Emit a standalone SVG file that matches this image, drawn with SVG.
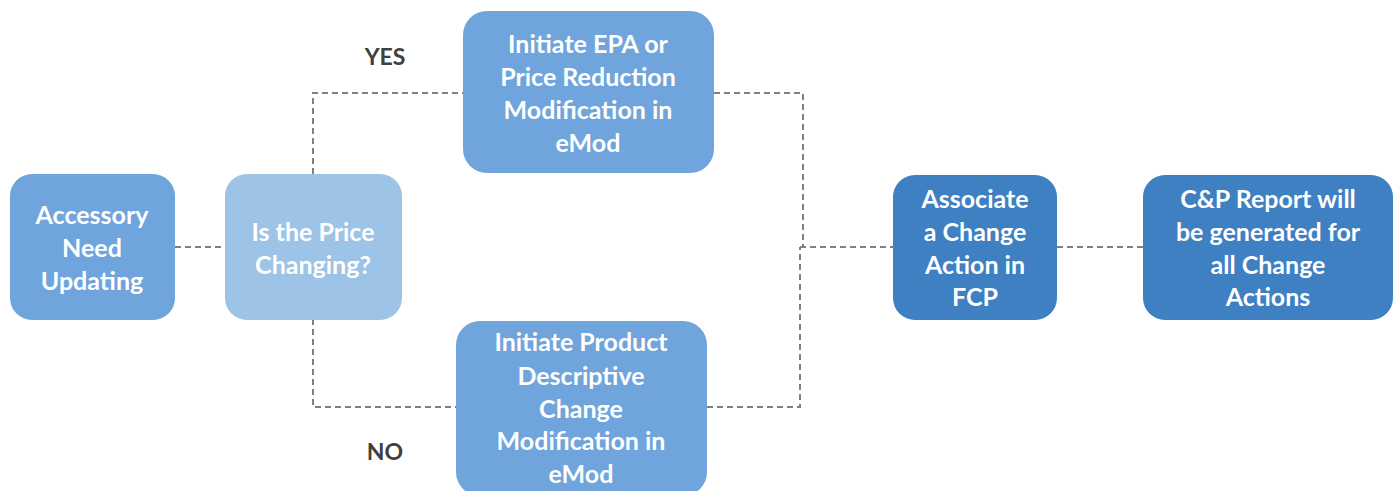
<svg xmlns="http://www.w3.org/2000/svg" width="1395" height="491" viewBox="0 0 1395 491">
<style>
.n1{fill:#6FA5DC}
.n2{fill:#9DC3E6}
.n3{fill:#3E80C2}
.t{font-family:Lato,"Liberation Sans",sans-serif;font-weight:bold;font-size:25px;fill:#ffffff;text-anchor:middle}
.lbl{font-family:Lato,"Liberation Sans",sans-serif;font-weight:bold;font-size:23px;fill:#404040;text-anchor:middle}
.c{fill:none;stroke:#7F7F7F;stroke-width:2;stroke-dasharray:6 4}
</style>
<rect width="1395" height="491" fill="#ffffff"/>
<g id="connectors">
<path class="c" d="M175 247 H225"/>
<path class="c" d="M313 174 V93 H463"/>
<path class="c" d="M313 319 V407 H456"/>
<path class="c" d="M714 93 H803 V247"/>
<path class="c" d="M707 407 H800 V247"/>
<path class="c" d="M800 247 H893"/>
<path class="c" d="M1057 247 H1143"/>
</g>
<g id="node-accessory">
<rect class="n1" x="10" y="174" width="165" height="146" rx="22"/>
<text class="t" x="92" y="224">Accessory</text>
<text class="t" x="92" y="257">Need</text>
<text class="t" x="92" y="290">Updating</text>
</g>
<g id="node-price">
<rect class="n2" x="225" y="174" width="177" height="146" rx="22"/>
<text class="t" x="313" y="241">Is the Price</text>
<text class="t" x="313" y="274">Changing?</text>
</g>
<g id="node-epa">
<rect class="n1" x="463" y="11" width="251" height="162" rx="24"/>
<text class="t" x="588" y="53">Initiate EPA or</text>
<text class="t" x="588" y="86">Price Reduction</text>
<text class="t" x="588" y="119">Modification in</text>
<text class="t" x="588" y="152">eMod</text>
</g>
<g id="node-product">
<rect class="n1" x="456" y="321" width="251" height="175" rx="24"/>
<text class="t" x="581" y="351">Initiate Product</text>
<text class="t" x="581" y="385">Descriptive</text>
<text class="t" x="581" y="418">Change</text>
<text class="t" x="581" y="450">Modification in</text>
<text class="t" x="581" y="483">eMod</text>
</g>
<g id="node-associate">
<rect class="n3" x="893" y="175" width="164" height="145" rx="22"/>
<text class="t" x="975" y="208">Associate</text>
<text class="t" x="975" y="241">a Change</text>
<text class="t" x="975" y="274">Action in</text>
<text class="t" x="975" y="306">FCP</text>
</g>
<g id="node-report">
<rect class="n3" x="1143" y="175" width="250" height="145" rx="22"/>
<text class="t" x="1268" y="208">C&amp;P Report will</text>
<text class="t" x="1268" y="241">be generated for</text>
<text class="t" x="1268" y="274">all Change</text>
<text class="t" x="1268" y="306">Actions</text>
</g>
<g id="labels">
<text class="lbl" x="385" y="65">YES</text>
<text class="lbl" x="385" y="460">NO</text>
</g>
</svg>
